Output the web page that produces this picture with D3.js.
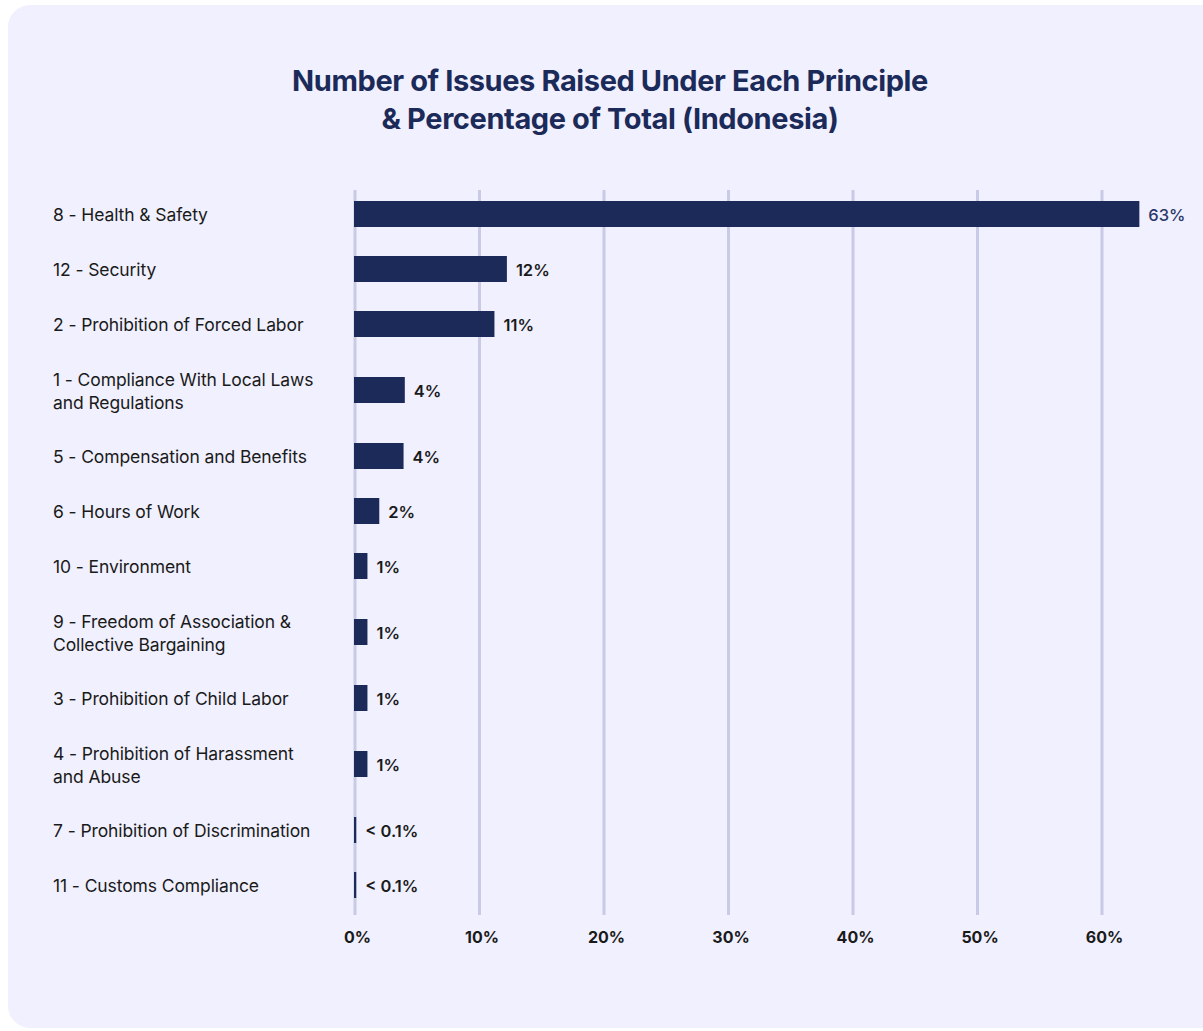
<!DOCTYPE html>
<html><head><meta charset="utf-8">
<script src="https://cdn.jsdelivr.net/npm/d3@7"></script>
<style>
html,body{margin:0;padding:0;background:#ffffff;}
svg{display:block;}
</style></head>
<body>
<svg id="chart" width="1203" height="1031"></svg>
<script>
const titleLines = ["Number of Issues Raised Under Each Principle", "& Percentage of Total (Indonesia)"];
const categories = [
  ["8 - Health & Safety"],
  ["12 - Security"],
  ["2 - Prohibition of Forced Labor"],
  ["1 - Compliance With Local Laws", "and Regulations"],
  ["5 - Compensation and Benefits"],
  ["6 - Hours of Work"],
  ["10 - Environment"],
  ["9 - Freedom of Association &", "Collective Bargaining"],
  ["3 - Prohibition of Child Labor"],
  ["4 - Prohibition of Harassment", "and Abuse"],
  ["7 - Prohibition of Discrimination"],
  ["11 - Customs Compliance"]
];
const values = [63, 12.2, 11.2, 4.0, 3.9, 1.95, 1.0, 1.0, 1.0, 1.0, 0.1, 0.1];
const valueLabels = ["63%", "12%", "11%", "4%", "4%", "2%", "1%", "1%", "1%", "1%", "< 0.1%", "< 0.1%"];
const tickValues = [0, 10, 20, 30, 40, 50, 60];
const tickLabels = ["0%", "10%", "20%", "30%", "40%", "50%", "60%"];

const svg = d3.select("#chart");
const FONT = "Inter, 'Noto Sans', sans-serif";
const navy = "#1b2a59";

// card
svg.append("rect").attr("x", 8).attr("y", 5).attr("width", 1215).attr("height", 1023)
  .attr("rx", 22).attr("fill", "#f0f0fe");

// title
svg.append("g").selectAll("text").data(titleLines).join("text")
  .attr("x", 610).attr("y", (d, i) => 91 + i * 38)
  .attr("text-anchor", "middle")
  .attr("font-family", FONT).attr("font-weight", 700).attr("font-size", 29)
  .attr("letter-spacing", -0.4)
  .attr("fill", navy).text(d => d);

// y positions derived from label line counts
const baseGap = 55, extraGap = 11;
const yPos = [];
let yc = 214;
categories.forEach((c, i) => {
  if (i > 0) {
    const multi = c.length > 1 || categories[i - 1].length > 1;
    yc += baseGap + (multi ? extraGap : 0);
  }
  yPos.push(yc);
});
const y = d3.scaleOrdinal().domain(d3.range(categories.length)).range(yPos);

const x = d3.scaleLinear().domain([0, 60]).range([355, 1102]);

// grid
svg.append("g").selectAll("line").data(tickValues).join("line")
  .attr("x1", d => x(d)).attr("x2", d => x(d))
  .attr("y1", 190).attr("y2", 915)
  .attr("stroke", "#c9cae6").attr("stroke-width", 3);

// x axis tick labels
const xAxis = d3.axisBottom(x).tickValues(tickValues).tickFormat((d, i) => tickLabels[i]).tickSize(0);
const ax = svg.append("g").attr("transform", "translate(2,926)").call(xAxis);
ax.select(".domain").remove();
ax.selectAll("text").attr("font-family", FONT).attr("font-weight", 700).attr("font-size", 16)
  .attr("fill", "#1a1a1a").attr("dy", "0.9em");

// bars
const barH = 26;
svg.append("g").selectAll("rect").data(values).join("rect")
  .attr("x", x(0) - 1)
  .attr("y", (d, i) => y(i) - barH / 2)
  .attr("width", d => Math.max(2, x(d) - x(0) + 1))
  .attr("height", barH)
  .attr("fill", navy);

// value labels
svg.append("g").selectAll("text").data(values).join("text")
  .attr("x", d => Math.max(x(0) + 1, x(d)) + 9)
  .attr("y", (d, i) => y(i) + 1)
  .attr("dy", "0.36em")
  .attr("font-family", FONT).attr("font-weight", (d, i) => i === 0 ? 500 : 600).attr("font-size", 16.5)
  .attr("fill", (d, i) => i === 0 ? "#2b3868" : "#1a1a1a")
  .text((d, i) => valueLabels[i]);

// category labels
const lab = svg.append("g").selectAll("text").data(categories).join("text")
  .attr("font-family", FONT).attr("font-size", 17.5).attr("fill", "#1a1a1a")
  .attr("letter-spacing", -0.1);
lab.each(function (lines, i) {
  const t = d3.select(this);
  const lh = 23;
  const start = y(i) - (lines.length - 1) * lh / 2;
  lines.forEach((ln, j) => {
    t.append("tspan").attr("x", 53).attr("y", start + j * lh + 1).attr("dy", "0.36em").text(ln);
  });
});
</script>
</body></html>
